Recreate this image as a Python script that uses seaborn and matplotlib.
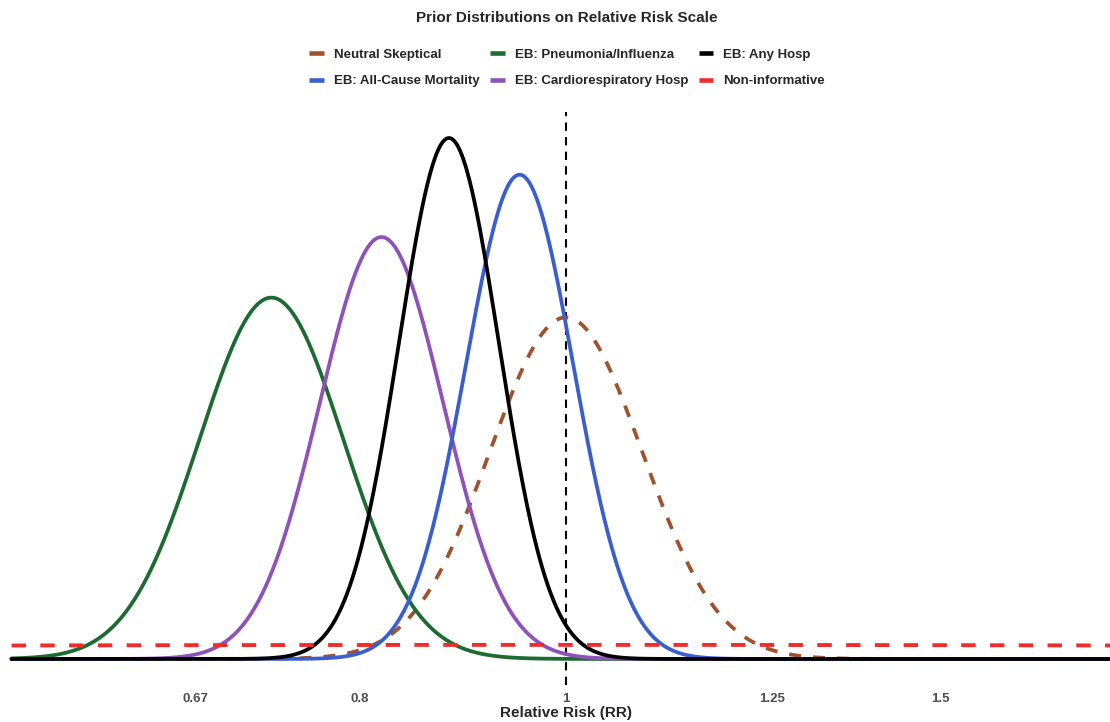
import numpy as np
import pandas as pd
import seaborn as sns
import matplotlib.pyplot as plt
from matplotlib.lines import Line2D
from matplotlib.ticker import NullLocator

# Prior parameters (centre on RR scale, SD on log-RR scale)
prior_names = ['Neutral Skeptical', 'EB: All-Cause Mortality', 'EB: Pneumonia/Influenza',
               'EB: Cardiorespiratory Hosp', 'EB: Any Hosp', 'Non-informative']
prior_rr_center = [1.0, 0.951, 0.727, 0.819, 0.881, 1.0]
prior_sd_log = [0.0825, 0.0582, 0.078, 0.0668, 0.0541, 2.0]
prior_colors = ['#A0522D', '#3A5FCD', '#1D6B31', '#8E52B8', '#000000', '#F22B2B']

draw_order = ['Neutral Skeptical', 'EB: Pneumonia/Influenza', 'EB: Cardiorespiratory Hosp',
              'EB: All-Cause Mortality', 'EB: Any Hosp']

tick_values = [0.67, 0.8, 1, 1.25, 1.5]
tick_labels = ['0.67', '0.8', '1', '1.25', '1.5']


def build_density_frame():
    """Normal densities on the log-RR scale for each prior"""
    grid = np.linspace(-0.6, 0.6, 801)
    rows = []
    for name, center, sd in zip(prior_names, prior_rr_center, prior_sd_log):
        mu = np.log(center)
        dens = np.exp(-0.5 * ((grid - mu) / sd) ** 2) / (sd * np.sqrt(2 * np.pi))
        rows.append(pd.DataFrame({'prior': name, 'rr': np.exp(grid), 'density': dens}))
    return pd.concat(rows, ignore_index=True)


df = build_density_frame()
palette = dict(zip(prior_names, prior_colors))

sns.set_style('white')
plt.rcParams['font.family'] = ['Liberation Sans', 'DejaVu Sans']

fig = plt.figure(figsize=(11.1, 7.22), dpi=100)
ax = fig.add_axes([0, 37 / 722, 1, 573 / 722])

ax.axvline(1, color='black', linestyle=(0, (4, 3)), linewidth=1.5, zorder=1)

curves = df[df['prior'].isin(draw_order)]
sns.lineplot(data=curves, x='rr', y='density', hue='prior', hue_order=draw_order,
             style='prior', style_order=draw_order,
             dashes={n: ((3.2, 3.2) if n == 'Neutral Skeptical' else '') for n in draw_order},
             palette=palette, linewidth=2.7, legend=False, errorbar=None, ax=ax, zorder=2)

flat = df[df['prior'] == 'Non-informative']
sns.lineplot(data=flat, x='rr', y='density', color=palette['Non-informative'],
             linewidth=2.8, dashes=False, errorbar=None, ax=ax, zorder=3)
ax.lines[-1].set_dashes((3.7, 3.7))

ymax = curves['density'].max()
ax.set_ylim(-0.05 * ymax, 1.05 * ymax)
ax.set_xscale('log')
ax.set_xlim(0.542, 1.8016)
ax.set_xticks(tick_values)
ax.set_xticklabels(tick_labels)
ax.xaxis.set_minor_locator(NullLocator())
ax.set_yticks([])
ax.set_xlabel('')
ax.set_ylabel('')
ax.tick_params(axis='x', length=3, width=0.8, color='#333333', labelsize=9.5,
               labelcolor='#4D4D4D', pad=2.5)
for lbl in ax.get_xticklabels():
    lbl.set_fontweight('bold')
for side in ['top', 'right', 'left', 'bottom']:
    ax.spines[side].set_visible(False)

# Legend (two rows, filled column-wise like ggplot)
handles = [Line2D([], [], color=palette[n], linewidth=3.3, solid_capstyle='butt')
           for n in prior_names]
fig.legend(handles, prior_names, ncol=3, loc='center',
           bbox_to_anchor=(567 / 1110, 1 - 68 / 722), frameon=False,
           prop={'weight': 'bold', 'size': 9.5}, handlelength=1.1,
           handletextpad=0.75, columnspacing=0.8, labelspacing=1.1)

fig.text(567 / 1110, 1 - 18 / 722, 'Prior Distributions on Relative Risk Scale',
         ha='center', va='center', fontsize=11, fontweight='bold')
fig.text(566 / 1110, 1 - 713 / 722, 'Relative Risk (RR)',
         ha='center', va='center', fontsize=11, fontweight='bold')

fig.savefig('out.png', dpi=100)
